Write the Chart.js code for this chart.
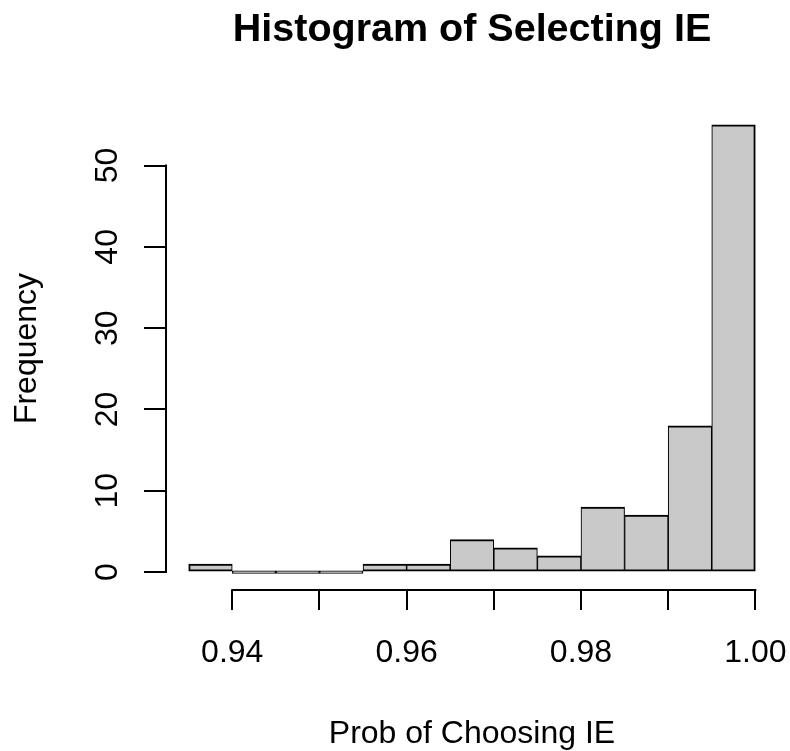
<!DOCTYPE html>
<html>
<head>
<meta charset="utf-8">
<title>Histogram of Selecting IE</title>
<script src="https://cdn.jsdelivr.net/npm/chart.js@4.4.1/dist/chart.umd.min.js"></script>
<style>
  html, body { margin: 0; padding: 0; background: #fff; }
  canvas { display: block; }
</style>
</head>
<body>
<canvas id="histChart" width="790" height="751"></canvas>
<script>
// bins are 0.005 wide; midpoints and counts
const binMids = [0.9375, 0.9425, 0.9475, 0.9525, 0.9575, 0.9625, 0.9675, 0.9725, 0.9775, 0.9825, 0.9875, 0.9925, 0.9975];
const counts = [1, 0, 0, 0, 1, 1, 4, 3, 2, 8, 7, 18, 55];

const xTicks = [0.94, 0.95, 0.96, 0.97, 0.98, 0.99, 1.00];
const xTickLabels = ['0.94', '', '0.96', '', '0.98', '', '1.00'];
const yTicks = [0, 10, 20, 30, 40, 50];
const yTickLabels = ['0', '10', '20', '30', '40', '50'];

const chartTitle = 'Histogram of Selecting IE';
const xTitle = 'Prob of Choosing IE';
const yTitle = 'Frequency';

// plot region limits (R pads the data range by 4%)
const xMin = 0.9324, xMax = 1.0026;
const yMin = -2.2, yMax = 57.2;

Chart.defaults.font.family = "'Liberation Sans', Arial, Helvetica, sans-serif";
Chart.defaults.color = '#000';

// R draws the axis line only between the first and last tick
const axisLines = {
  id: 'axisLines',
  afterDraw(chart) {
    const { ctx, chartArea, scales: { x, y } } = chart;
    ctx.save();
    ctx.strokeStyle = '#000';
    ctx.lineWidth = 2;
    ctx.beginPath();
    ctx.moveTo(x.getPixelForValue(xTicks[0]) - 1, chartArea.bottom);
    ctx.lineTo(x.getPixelForValue(xTicks[xTicks.length - 1]) + 1, chartArea.bottom);
    ctx.moveTo(chartArea.left, y.getPixelForValue(yTicks[0]) + 1);
    ctx.lineTo(chartArea.left, y.getPixelForValue(yTicks[yTicks.length - 1]) - 1);
    ctx.stroke();
    ctx.restore();
  }
};

new Chart(document.getElementById('histChart'), {
  type: 'bar',
  data: {
    datasets: [{
      data: binMids.map((m, i) => ({ x: m, y: counts[i] })),
      backgroundColor: '#c9c9c9',
      borderColor: '#000',
      borderWidth: ctx => ({
        top: 2,
        bottom: 2,
        left: ctx.dataIndex === 0 ? 2 : 1.1,
        right: ctx.dataIndex === counts.length - 1 ? 2 : 1.1
      }),
      borderSkipped: false,
      minBarLength: 2.4,
      barPercentage: 1,
      categoryPercentage: 1
    }]
  },
  options: {
    responsive: false,
    animation: false,
    layout: { padding: { right: 12 } },
    plugins: {
      legend: { display: false },
      tooltip: { enabled: false },
      title: {
        display: true,
        text: chartTitle,
        fullSize: false,
        color: '#000',
        font: { size: 39.5, weight: 'bold', lineHeight: 1.2 },
        padding: { top: 6, bottom: 53.6 }
      }
    },
    scales: {
      x: {
        type: 'linear',
        min: xMin,
        max: xMax,
        bounds: 'data',
        offset: false,
        afterBuildTicks: s => { s.ticks = xTicks.map(v => ({ value: v })); },
        afterFit: s => { s.height = 161; },
        border: { display: false },
        grid: { offset: false, drawOnChartArea: false, tickLength: 20, color: '#000', lineWidth: 2 },
        ticks: {
          autoSkip: false,
          maxRotation: 0,
          padding: 0,
          font: { size: 32, lineHeight: 2.6875 },
          callback: (v, i) => xTickLabels[i]
        },
        title: { display: true, text: xTitle, font: { size: 32, lineHeight: 1 }, padding: { top: 0, bottom: 1 } }
      },
      y: {
        type: 'linear',
        min: yMin,
        max: yMax,
        bounds: 'data',
        afterBuildTicks: s => { s.ticks = yTicks.map(v => ({ value: v })); },
        afterFit: s => { s.width = 166; },
        border: { display: false },
        grid: { drawOnChartArea: false, tickLength: 22, color: '#000', lineWidth: 2 },
        ticks: {
          minRotation: 90,
          maxRotation: 90,
          crossAlign: 'center',
          padding: 18,
          font: { size: 32 },
          callback: (v, i) => yTickLabels[i]
        },
        title: { display: true, text: yTitle, font: { size: 32, lineHeight: 1 }, padding: { top: 11, bottom: 0 } }
      }
    }
  },
  plugins: [axisLines]
});
</script>
</body>
</html>
